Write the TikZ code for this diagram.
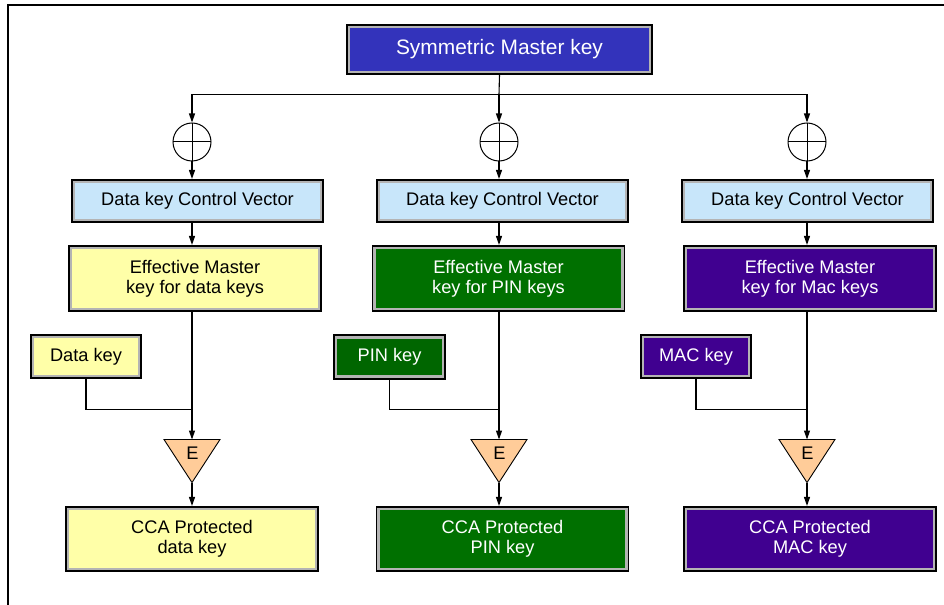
\documentclass[tikz,border=0pt]{standalone}
\usepackage{fontspec}
\setmainfont{Liberation Sans}
\usetikzlibrary{arrows.meta}
\definecolor{masterblue}{HTML}{3333BB}
\definecolor{cvblue}{HTML}{C8E6FA}
\definecolor{yel}{HTML}{FFFFA8}
\definecolor{grn}{HTML}{007000}
\definecolor{grnkey}{HTML}{006600}
\definecolor{purp}{HTML}{400090}
\definecolor{peach}{HTML}{FFCC99}
\definecolor{band}{HTML}{B4B4B4}
\tikzset{
  box/.style={draw=black, line width=1.6bp, fill=band, inner sep=0pt, align=center,
    font=\fontsize{18.3}{20}\selectfont,
    path picture={\fill[#1] ([shift={(3.3bp,-3.3bp)}]path picture bounding box.north west) rectangle ([shift={(-3.3bp,3.3bp)}]path picture bounding box.south east);}},
  conn/.style={line width=1.1bp, draw=black},
  arr/.style={conn, -{Triangle[length=9bp,width=6bp]}},
  xorop/.style={circle, draw=black, line width=1bp, minimum size=38bp, inner sep=0pt,
    path picture={\draw[line width=1bp] (path picture bounding box.west) -- (path picture bounding box.east);
                  \draw[line width=1bp] (path picture bounding box.north) -- (path picture bounding box.south);}},
  enc/.style={font=\fontsize{18.3}{20}\selectfont, inner sep=0pt},
}
\begin{document}
\begin{tikzpicture}[x=1bp,y=-1bp]
\useasboundingbox (0,0) rectangle (944,605);
\draw[line width=1.5bp] (8,605) -- (8,5) -- (944,5);

% master
\node[box=masterblue, text=white, font=\fontsize{21}{24}\selectfont, minimum width=305bp, minimum height=49bp] (master) at (499.5,49.5) {Symmetric Master key};

% xor circles
\node[xorop] (o1) at (192,142) {};
\node[xorop] (o2) at (499,142) {};
\node[xorop] (o3) at (807,142) {};

% control vectors
\node[box=cvblue, minimum width=251bp, minimum height=42.5bp] (cv1) at (197.5,201) {Data key Control Vector};
\node[box=cvblue, minimum width=251bp, minimum height=42.5bp] (cv2) at (502.5,201) {Data key Control Vector};
\node[box=cvblue, minimum width=251bp, minimum height=42.5bp] (cv3) at (807.5,201) {Data key Control Vector};

% effective master keys
\node[box=yel, minimum width=252bp, minimum height=65.5bp] (e1) at (195,278.5) {Effective Master\\key for data keys};
\node[box=grn, text=white, minimum width=252bp, minimum height=65.5bp] (e2) at (498.5,278.5) {Effective Master\\key for PIN keys};
\node[box=purp, text=white, minimum width=252bp, minimum height=65.5bp] (e3) at (810,278.5) {Effective Master\\key for Mac keys};

% keys
\node[box=yel, minimum width=110bp, minimum height=43.5bp] (k1) at (86,356.5) {Data key};
\node[box=grnkey, text=white, minimum width=111bp, minimum height=43.5bp] (k2) at (389.5,357) {PIN key};
\node[box=purp, text=white, minimum width=110bp, minimum height=43.5bp] (k3) at (696,356.5) {MAC key};

% CCA protected
\node[box=yel, minimum width=252bp, minimum height=64.5bp] (c1) at (192,539) {CCA Protected\\data key};
\node[box=grn, text=white, minimum width=252bp, minimum height=64.5bp] (c2) at (502.5,539) {CCA Protected\\PIN key};
\node[box=purp, text=white, minimum width=252bp, minimum height=64.5bp] (c3) at (810,539) {CCA Protected\\MAC key};

% encryption triangles
\foreach \i/\cx in {1/192,2/499,3/807}{
  \draw[fill=peach, line width=0.9bp] (\cx-28,439.5) -- (\cx+28,439.5) -- (\cx,482.5) -- cycle;
  \coordinate (t\i top) at (\cx,439.5);
  \coordinate (t\i bot) at (\cx,482.5);
  \coordinate (j\i) at (\cx,409.5);
  \node[enc] (t\i) at (\cx+0.5,453) {E};
}

% bus from master
\coordinate (bus) at (499,94.5);
\draw[conn] (master.south) -- (bus);
\draw[arr] (bus) -| (o1.north);
\draw[arr] (bus) -- (o2.north);
\draw[arr] (bus) -| (o3.north);

% columns
\foreach \i in {1,2,3}{
  \draw[arr] (o\i.south) -- (o\i.south |- cv\i.north);
  \draw[arr] (o\i |- cv\i.south) -- (o\i |- e\i.north);
  \draw[arr] (o\i |- e\i.south) -- (t\i top);
  \draw[conn] (k\i.south) |- (j\i);
  \draw[arr] (t\i bot) -- (t\i bot |- c\i.north);
}
\end{tikzpicture}
\end{document}
